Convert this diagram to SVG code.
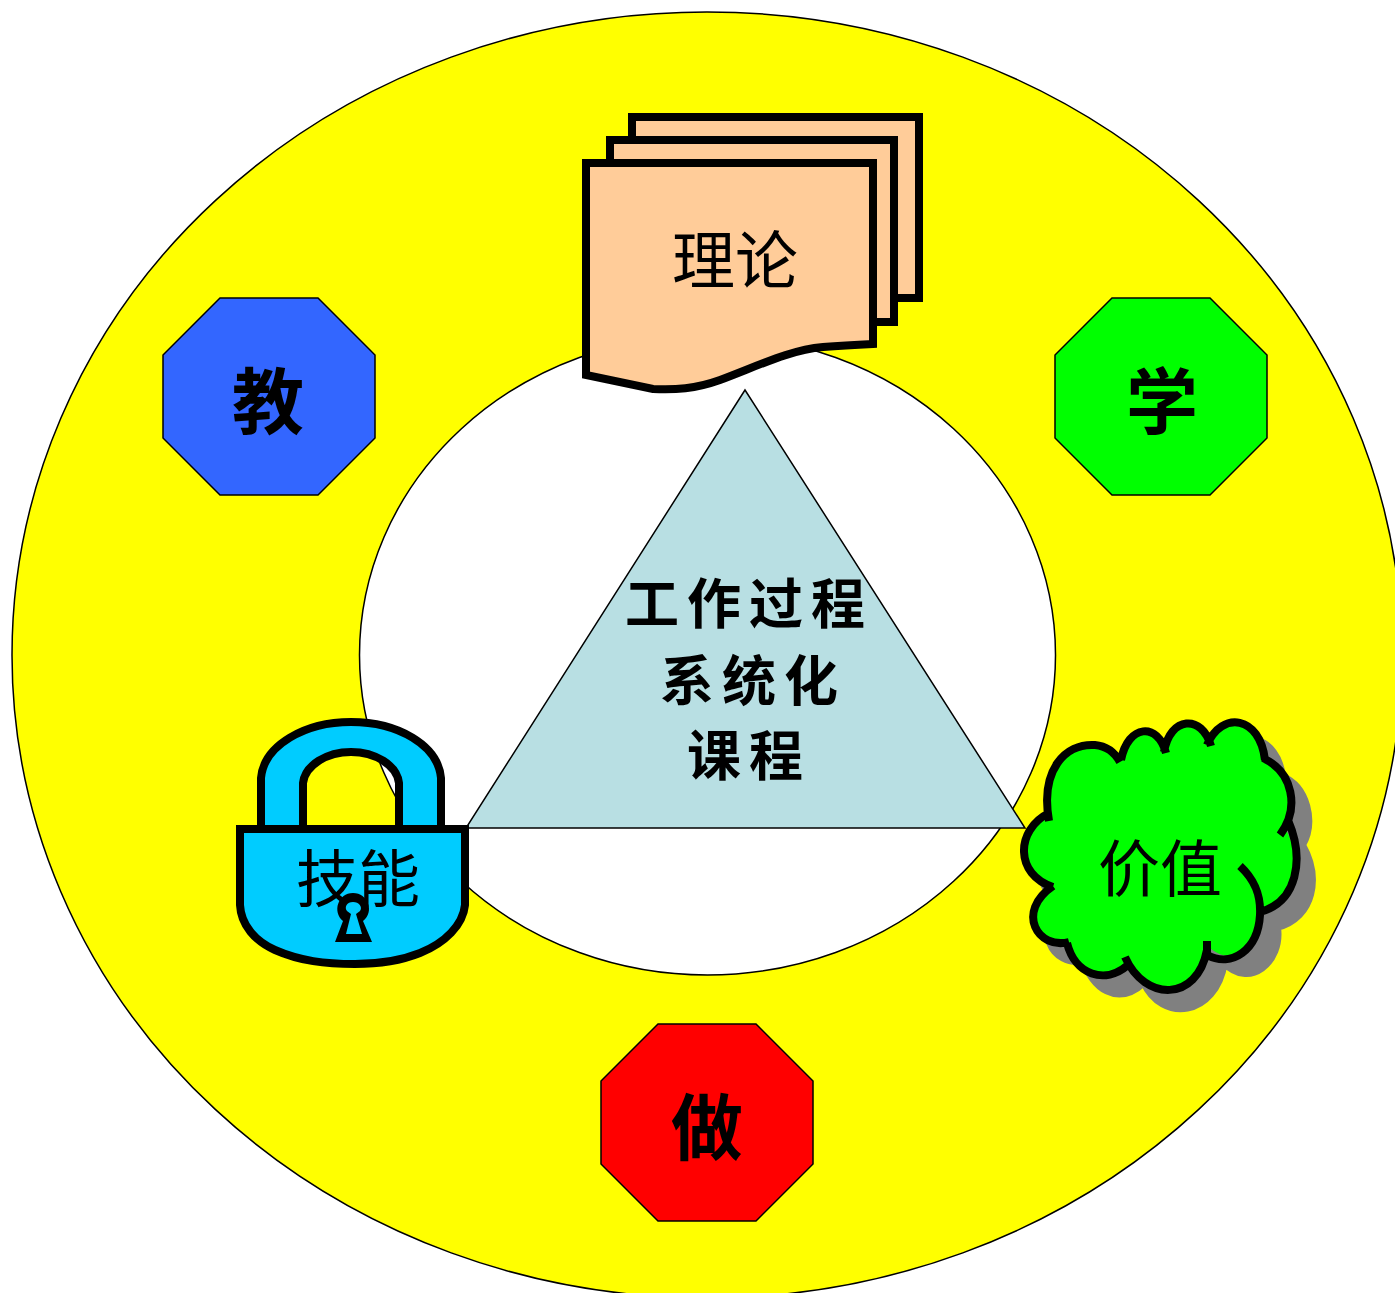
<svg xmlns="http://www.w3.org/2000/svg" width="1395" height="1293" viewBox="0 0 1395 1293">
<style>
.t{font-family:"Noto Sans CJK SC","Noto Sans CJK TC",sans-serif;fill:#000;text-anchor:middle}
.b{font-weight:700}
.oct{stroke:#000;stroke-width:1.5}
.page{fill:#FFCC99;stroke:#000;stroke-width:8}
.lock{fill:#00CCFF;stroke:#000;stroke-width:8;stroke-linejoin:miter}
</style>
<defs>
<path id="cloudFill" d="M1049 815C1040 770 1065 745 1092 746C1105 747 1115 753 1120 762C1125 735 1155 722 1165 750C1172 718 1202 716 1210 744C1222 712 1260 718 1265 760C1290 770 1298 805 1285 828C1303 860 1297 900 1260 910C1265 945 1232 972 1207 945C1198 1000 1145 1005 1127 965C1100 990 1075 970 1067 943C1035 950 1015 910 1050 887C1015 875 1015 828 1049 815Z"/>
<path id="cloudLine" d="M1049 821C1040 770 1065 743 1095 745C1107 746 1115 753 1120 762M1121 760C1128 724 1158 722 1166 753M1164 752C1170 716 1202 714 1211 746M1207 745C1222 710 1260 716 1265 760M1263 758C1293 772 1300 808 1280 835M1288 820C1305 860 1297 902 1260 912M1240 866C1255 880 1261 895 1260 915C1258 950 1232 968 1207 955L1207 941M1207 950C1197 1002 1145 1002 1125 957M1128 965C1105 985 1075 975 1067 943M1069 942C1038 950 1015 912 1053 886M1053 887C1015 875 1015 830 1049 813"/>
</defs>
<g id="ring">
<ellipse cx="707" cy="655" rx="695" ry="643" fill="#FFFF00" stroke="#000" stroke-width="1.5"/>
<ellipse cx="707.5" cy="655" rx="348" ry="320" fill="#fff" stroke="#000" stroke-width="1.5"/>
</g>
<g id="node-jiao"><polygon class="oct" fill="#3366FF" points="220,298 318,298 375,355 375,438 318,495 220,495 163,438 163,355"/><text class="t b" x="268" y="428" font-size="72">教</text></g>
<g id="node-xue"><polygon class="oct" fill="#00FF00" points="1112,298 1210,298 1267,355 1267,438 1210,495 1112,495 1055,438 1055,355"/><text class="t b" x="1162" y="428" font-size="72">学</text></g>
<g id="node-zuo"><polygon class="oct" fill="#FF0000" points="658,1024 756,1024 813,1081 813,1164 756,1221 658,1221 601,1164 601,1081"/><text class="t b" x="707" y="1154" font-size="72">做</text></g>
<g id="node-lilun">
<polygon class="page" points="632,117 919,117 919,298 632,298"/>
<polygon class="page" points="610,140 894,140 894,322 610,322"/>
<path class="page" d="M586 163H873V344C850 345 835 346 823 347C790 350 760 365 720 380C695 389 675 390 653 389L586 375Z"/>
<text class="t" x="735" y="283" font-size="63">理论</text>
</g>
<g id="node-cloud">
<use href="#cloudFill" fill="#808080" stroke="#808080" stroke-width="8" transform="translate(17 17)"/>
<use href="#cloudFill" fill="#00FF00"/>
<use href="#cloudLine" fill="none" stroke="#000" stroke-width="8"/>
<text class="t" x="1160" y="892" font-size="62">价值</text>
</g>
<g id="node-triangle">
<polygon points="745,390 1025,828 466,828" fill="#B8DFE3" stroke="#000" stroke-width="1.5"/>
<text class="t b" x="749" y="624" font-size="54" letter-spacing="8">工作过程</text>
<text class="t b" x="753" y="701" font-size="54" letter-spacing="8">系统化</text>
<text class="t b" x="749" y="776" font-size="54" letter-spacing="8">课程</text>
</g>
<g id="node-lock">
<path class="lock" d="M261 829V778C264 745 305 722 351 722C398 722 438 745 441 778V829H399V783C397 765 375 752 351 752C327 752 305 765 303 783V829Z"/>
<path class="lock" d="M240 829H465V905C463 925 445 943 420 953C400 961 380 964 355 964C325 964 300 961 275 950C255 941 241 925 240 905Z"/>
<text class="t" x="358" y="902" font-size="62">技能</text>
<path fill="#000" d="M343 921C332 912 338 893 353 893C368 893 375 912 363 921L372 942H335Z"/>
<path fill="#00CCFF" d="M353 902C347 902 344 907 347 911L351 914L346 934H362L356 914L360 911C363 907 359 902 353 902Z"/>
</g>
</svg>
